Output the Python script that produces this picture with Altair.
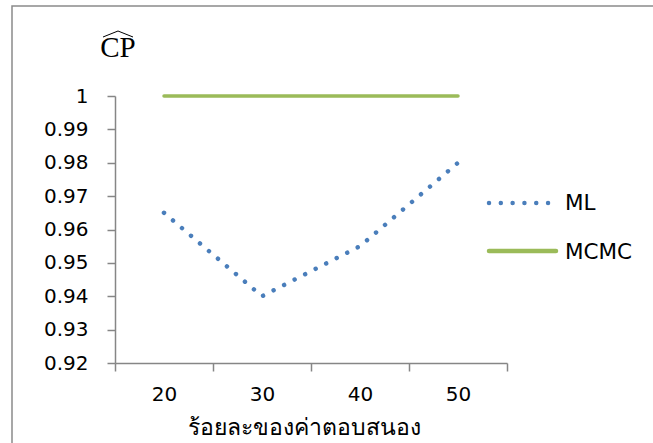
import altair as alt
import pandas as pd

categories = [20, 30, 40, 50]
ml_values = [0.965, 0.940, 0.955, 0.980]
mcmc_values = [1.0, 1.0, 1.0, 1.0]
series_names = ["ML", "MCMC"]
series_colors = ["#4A7EBB", "#9BBB59"]
y_ticks = [0.92, 0.93, 0.94, 0.95, 0.96, 0.97, 0.98, 0.99, 1.0]
x_axis_values = [15, 20, 25, 30, 35, 40, 45, 50, 55]
x_title = "ร้อยละของค่าตอบสนอง"
y_title = "CP"

df_ml = pd.DataFrame({"x": categories, "y": ml_values})
df_mcmc = pd.DataFrame({"x": categories, "y": mcmc_values})

AX = "#868686"
FONT = "DejaVu Sans"
ML_DASH = [0.01, 11.8]

x_enc = alt.X(
    "x:Q",
    scale=alt.Scale(domain=[15, 55], nice=False, zero=False),
    axis=alt.Axis(
        values=x_axis_values,
        labelExpr="datum.value % 10 == 0 ? datum.label : ''",
        tickOpacity={"condition": {"test": "datum.value % 10 == 5", "value": 1}, "value": 0},
        grid=False,
        domainColor=AX, domainWidth=1.5,
        tickColor=AX, tickWidth=1.5, tickSize=8,
        labelFont=FONT, labelFontSize=20, labelColor="black",
        labelPadding=13, labelFlush=False,
        title=x_title, titleFont=FONT, titleFontSize=23, titleFontWeight="normal",
        titleColor="black", titleBaseline="alphabetic", titleAnchor="middle",
        titleX=189, titleY=71,
    ),
)
y_enc = alt.Y(
    "y:Q",
    scale=alt.Scale(domain=[0.92, 1.0], nice=False, zero=False),
    axis=alt.Axis(
        values=y_ticks, format=".2~f", grid=False,
        domainColor=AX, domainWidth=1.5,
        tickColor=AX, tickWidth=1.5, tickSize=8,
        labelFont=FONT, labelFontSize=20, labelColor="black",
        labelPadding=19, labelFlush=False,
        title=None,
    ),
)

ml_line = alt.Chart(df_ml).mark_line(
    color=series_colors[0], strokeWidth=4.5, strokeDash=ML_DASH, strokeCap="round", clip=False
).encode(x=x_enc, y=y_enc)

mcmc_line = alt.Chart(df_mcmc).mark_line(
    color=series_colors[1], strokeWidth=3.5, strokeCap="round", clip=False
).encode(x=x_enc, y=y_enc)

one = alt.Data(values=[{}])

frame = alt.Chart(one).mark_rect(fill=None, stroke="#8A8A8A", strokeWidth=1.5, clip=False).encode(
    x=alt.value(-103), x2=alt.value(560), y=alt.value(-90), y2=alt.value(360)
)

cp_text = alt.Chart(one).mark_text(
    font="Liberation Serif", fontSize=29, color="black", align="center", baseline="alphabetic"
).encode(x=alt.value(3), y=alt.value(-39), text=alt.value(y_title))

hat_l = alt.Chart(one).mark_rule(color="black", strokeWidth=1).encode(
    x=alt.value(-12), y=alt.value(-59), x2=alt.value(3), y2=alt.value(-65)
)
hat_r = alt.Chart(one).mark_rule(color="black", strokeWidth=1).encode(
    x=alt.value(3), y=alt.value(-65), x2=alt.value(18), y2=alt.value(-59)
)

# legend (manual)
leg_ml_sym = alt.Chart(one).mark_rule(
    color=series_colors[0], strokeWidth=4.5, strokeDash=ML_DASH, strokeCap="round"
).encode(x=alt.value(374), x2=alt.value(434), y=alt.value(107))
leg_mcmc_sym = alt.Chart(one).mark_rule(
    color=series_colors[1], strokeWidth=4.5, strokeCap="round"
).encode(x=alt.value(374), x2=alt.value(441), y=alt.value(155))
leg_ml_txt = alt.Chart(one).mark_text(
    font=FONT, fontSize=21.5, color="black", align="left", baseline="alphabetic"
).encode(x=alt.value(450), y=alt.value(114), text=alt.value(series_names[0]))
leg_mcmc_txt = alt.Chart(one).mark_text(
    font=FONT, fontSize=21.5, color="black", align="left", baseline="alphabetic"
).encode(x=alt.value(450), y=alt.value(163), text=alt.value(series_names[1]))

chart = alt.layer(
    frame, mcmc_line, ml_line, cp_text, hat_l, hat_r,
    leg_ml_sym, leg_mcmc_sym, leg_ml_txt, leg_mcmc_txt,
).properties(
    width=392, height=267,
    autosize=alt.AutoSizeParams(type="none"),
    padding={"left": 115, "top": 96, "right": 146, "bottom": 80},
    background="white",
).configure_view(stroke=None)

chart.save("out.html", embed_options={"renderer": "svg", "actions": False})
